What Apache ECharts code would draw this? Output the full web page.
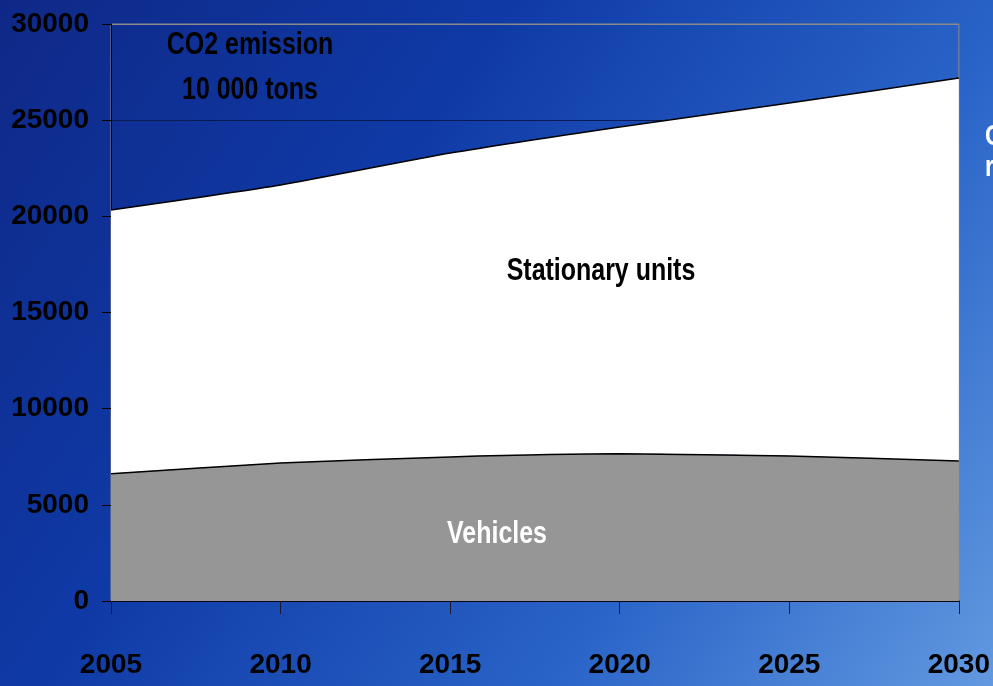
<!DOCTYPE html>
<html>
<head>
<meta charset="utf-8">
<script src="https://cdn.jsdelivr.net/npm/echarts@6/dist/echarts.min.js"></script>
<style>
html,body{margin:0;padding:0;width:993px;height:686px;overflow:hidden;}
#c{width:993px;height:686px;}
</style>
</head>
<body>
<div id="c"></div>
<script>
const years = ['2005','2010','2015','2020','2025','2030'];
const vehicles = [6620, 7170, 7490, 7650, 7540, 7280];
const stationary = [13710, 14460, 15800, 17000, 18350, 19910];
const yTicks = [0, 5000, 10000, 15000, 20000, 25000, 30000];

const FONT = '"Liberation Sans", Arial, sans-serif';
const chart = echarts.init(document.getElementById('c'));
function label(text, x, y, fill) {
  return {type: 'text', x: x, y: y, scaleX: 0.78, scaleY: 1, z: 10,
    style: {text: text, fill: fill, font: 'bold 32px ' + FONT, textAlign: 'center', textVerticalAlign: 'middle'}};
}
chart.setOption({
  animation: false,
  backgroundColor: {
    type: 'linear', x: 0, y: 0, x2: 1, y2: 1,
    colorStops: [
      {offset: 0, color: '#0f2887'},
      {offset: 0.35, color: '#0f3aa6'},
      {offset: 0.7, color: '#2a64c8'},
      {offset: 1, color: '#6299e0'}
    ]
  },
  grid: {
    left: 111, right: 31, top: 24, bottom: 85,
    show: true, borderColor: '#8a8a8a', borderWidth: 1, backgroundColor: 'transparent'
  },
  xAxis: {
    type: 'category', data: years, boundaryGap: false,
    axisLine: {lineStyle: {color: '#000', width: 1.5}},
    axisTick: {show: true, length: 13, lineStyle: {color: '#1a1a2a', width: 1}},
    axisLabel: {color: '#000', fontFamily: FONT, fontWeight: 'bold', fontSize: 28, margin: 50},
    splitLine: {show: false}
  },
  yAxis: {
    type: 'value', min: 0, max: 30000, interval: 5000,
    axisLine: {show: true, lineStyle: {color: '#000', width: 1}},
    axisTick: {show: true, length: 9, lineStyle: {color: '#000', width: 1}},
    axisLabel: {color: '#000', fontFamily: FONT, fontWeight: 'bold', fontSize: 28, margin: 22,
      formatter: v => yTicks.includes(v) ? String(v) : ''},
    splitLine: {show: true, lineStyle: {color: ['#0a1a55','#0a1a55','#0a1a55','#0a1a55','#0a1a55','#0a1a55','#8a8a8a'], width: 1}}
  },
  series: [
    {
      name: 'Vehicles', type: 'line', stack: 'total', data: vehicles, smooth: 0.2,
      symbol: 'none', lineStyle: {color: '#000', width: 1.5},
      areaStyle: {color: '#969696', opacity: 1}, z: 3
    },
    {
      name: 'Stationary units', type: 'line', stack: 'total', data: stationary, smooth: 0.2,
      symbol: 'none', lineStyle: {color: '#000', width: 1.5},
      areaStyle: {color: '#ffffff', opacity: 1}, z: 2
    }
  ],
  graphic: [
    label('CO2 emission', 250, 45, '#000'),
    label('10 000 tons', 250, 90, '#000'),
    label('Stationary units', 601, 271, '#000'),
    label('Vehicles', 497, 534, '#fff'),
    {type: 'text', x: 985, y: 137, scaleX: 0.78, style: {text: 'C', fill: '#fff', font: 'bold 30px ' + FONT, textAlign: 'left', textVerticalAlign: 'middle'}, z: 10},
    {type: 'text', x: 985, y: 168, scaleX: 0.78, style: {text: 'r', fill: '#fff', font: 'bold 30px ' + FONT, textAlign: 'left', textVerticalAlign: 'middle'}, z: 10}
  ]
});
</script>
</body>
</html>
